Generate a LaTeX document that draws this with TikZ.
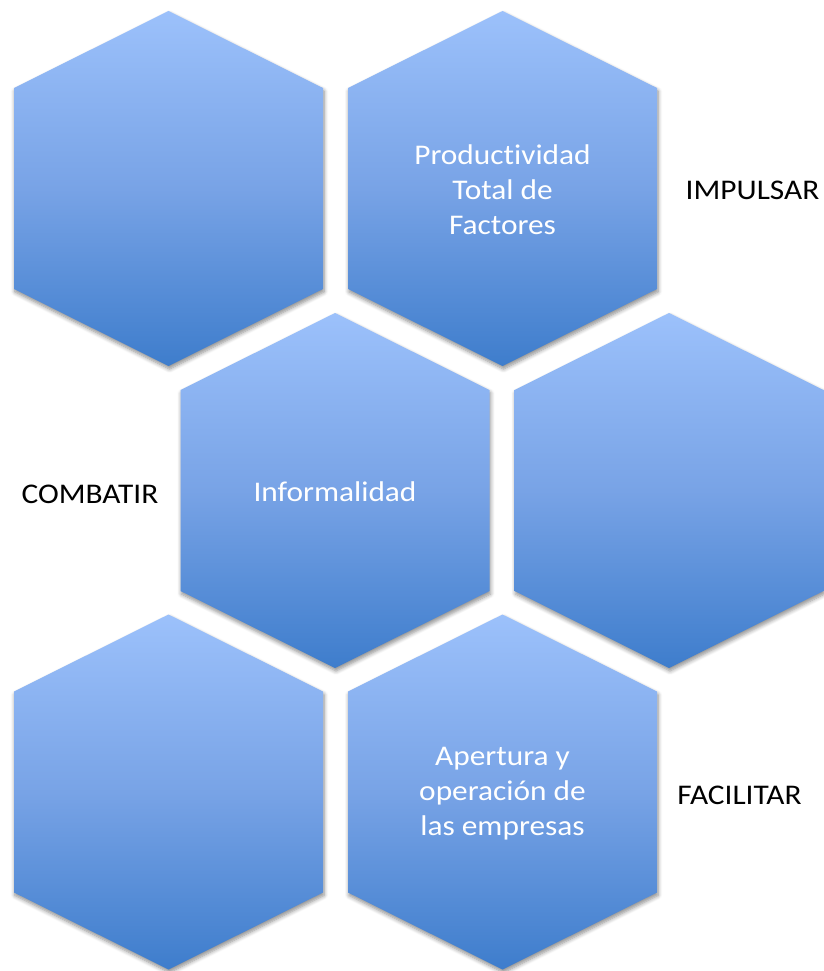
\documentclass[tikz,border=0pt]{standalone}
\usepackage{fontspec}
\setmainfont{Carlito}[FakeStretch=1.1, Ligatures={NoCommon}]
\usetikzlibrary{shadows.blur}
\definecolor{hextop}{RGB}{156,193,251}
\definecolor{hexmid}{RGB}{120,163,230}
\definecolor{hexbot}{RGB}{62,125,204}
\tikzset{
  hexfill/.style={top color=hextop, bottom color=hexbot, middle color=hexmid,
    blur shadow={shadow xshift=1pt, shadow yshift=-3pt, shadow blur radius=4pt, shadow blur steps=6, shadow opacity=45}},
  hextext/.style={text=white, align=center, font=\fontsize{28.5}{35}\selectfont},
  sidetext/.style={text=black, font=\fontsize{28.5}{35}\selectfont}
}
\newcommand{\hexat}[2]{%
  \path[hexfill] (#1-154.5,#2-100.5) -- (#1,#2-177.5) -- (#1+154.5,#2-100.5)
    -- (#1+154.5,#2+100.5) -- (#1,#2+177.5) -- (#1-154.5,#2+100.5) -- cycle;}
\begin{document}
\begin{tikzpicture}[x=1pt,y=-1pt]
\useasboundingbox (0,0) rectangle (823,971);
\hexat{168.5}{188.5}
\hexat{502.5}{188.5}
\hexat{335}{490.5}
\hexat{669}{490.5}
\hexat{168.5}{792}
\hexat{502.5}{792}
\node[hextext] (ptf) at (502.5,190) {Productividad\\Total de\\Factores};
\node[hextext] (inf) at (335,492) {Informalidad};
\node[hextext] (ape) at (502.5,794) {Apertura y\\operación de\\las empresas};
\node[sidetext] (imp) at (752.5,190) {IMPULSAR};
\node[sidetext] (com) at (90,494) {COMBATIR};
\node[sidetext] (fac) at (739.5,795) {FACILITAR};
\end{tikzpicture}
\end{document}
